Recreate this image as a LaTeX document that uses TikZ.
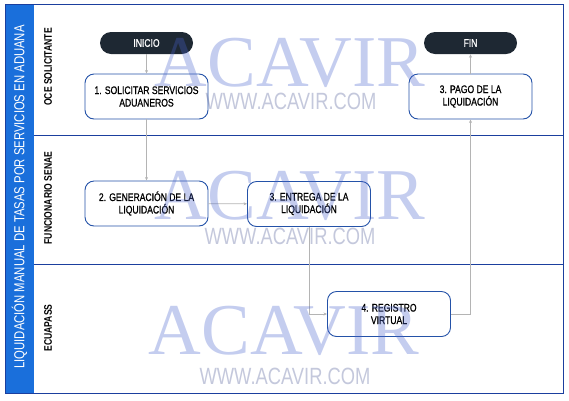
\documentclass[tikz,border=0pt]{standalone}
\usepackage{fontspec}
\setmainfont{Liberation Sans}[FakeStretch=0.78]
\newfontfamily\cajafont{Liberation Sans}[FakeStretch=0.78, FakeBold=0.8]
\newfontfamily\marcafont{Liberation Serif}
\usetikzlibrary{arrows.meta}

\definecolor{azulbanda}{HTML}{1A6FDB}
\definecolor{azulborde}{HTML}{1B3F9E}
\definecolor{azulcaja}{HTML}{2452A8}
\definecolor{oscuro}{HTML}{1E2833}
\definecolor{gris}{HTML}{B4B4B4}
\definecolor{marca}{RGB}{72,98,205}
\definecolor{marcaweb}{RGB}{58,72,138}

\begin{document}
\begin{tikzpicture}[x=1pt, y=-1pt,
    caja/.style={rectangle, draw=azulcaja, line width=0.9pt, rounded corners=9pt, fill=white,
      minimum width=123pt, minimum height=45pt, align=center, inner sep=1pt,
      font=\cajafont\fontsize{11}{12.5}\selectfont},
    pildora/.style={rectangle, fill=oscuro, rounded corners=11pt, text=white,
      minimum width=93pt, minimum height=22pt, font=\cajafont\fontsize{11}{12.5}\selectfont},
    carril/.style={rotate=90, font=\bfseries\fontsize{11}{12.5}\selectfont},
    flecha/.style={draw=gris, line width=0.7pt, -{Stealth[length=3.5pt, width=3pt]}},
    marcagrande/.style={text=marca, opacity=0.32, font=\marcafont\fontsize{73}{73}\selectfont},
    marcaweb/.style={text=marcaweb, opacity=0.3, font=\fontsize{23.5}{24}\selectfont}]

        \useasboundingbox (0,0) rectangle (569,400);

        % Marco y carriles
        \fill[azulbanda] (5,4) rectangle (34,393);
        \draw[azulborde, line width=0.9pt] (5,4) rectangle (563,393);
        \draw[azulborde, line width=0.9pt] (34,135) -- (563,135);
        \draw[azulborde, line width=0.9pt] (34,264) -- (563,264);

        \node[rotate=90, text=white, font=\fontsize{14.5}{16}\selectfont] (titulo) at (19.5,197)
          {LIQUIDACIÓN MANUAL DE TASAS POR SERVICIOS EN ADUANA};
        \node[carril] (oce) at (48,67) {OCE SOLICITANTE};
        \node[carril] (senae) at (48,198) {FUNCIONARIO SENAE};
        \node[carril] (ecuapass) at (48,328) {ECUAPASS};

        % Nodos
        \node[pildora] (inicio) at (146.5,43) {INICIO};
        \node[pildora] (fin) at (470.5,43) {FIN};
        \node[caja] (1) at (146.5,96.5) {1. SOLICITAR SERVICIOS\\ADUANEROS};
        \node[caja] (2) at (146.5,203.5) {2. GENERACIÓN DE LA\\LIQUIDACIÓN};
        \node[caja] (3) at (309,204) {3. ENTREGA DE LA\\LIQUIDACIÓN};
        \node[caja] (4) at (389,314) {4. REGISTRO\\VIRTUAL};
        \node[caja] (5) at (470.5,96.5) {3. PAGO DE LA\\LIQUIDACIÓN};

        % Conectores
        \draw[flecha] (inicio) -- (1);
        \draw[flecha] (1) -- (2);
        \draw[flecha] (2) -- (3);
        \draw[flecha] (3) |- (4);
        \draw[flecha] (4) -| (5);
        \draw[flecha] (5) -- (fin);

        % Marca de agua
        \node[marcagrande] (acavir1) at (290,63) {ACAVIR};
        \node[marcaweb] (web1) at (291,101) {WWW.ACAVIR.COM};
        \node[marcagrande] (acavir2) at (290,196) {ACAVIR};
        \node[marcaweb] (web2) at (290,236) {WWW.ACAVIR.COM};
        \node[marcagrande] (acavir3) at (284,331) {ACAVIR};
        \node[marcaweb] (web3) at (285,376) {WWW.ACAVIR.COM};

\end{tikzpicture}
\end{document}
